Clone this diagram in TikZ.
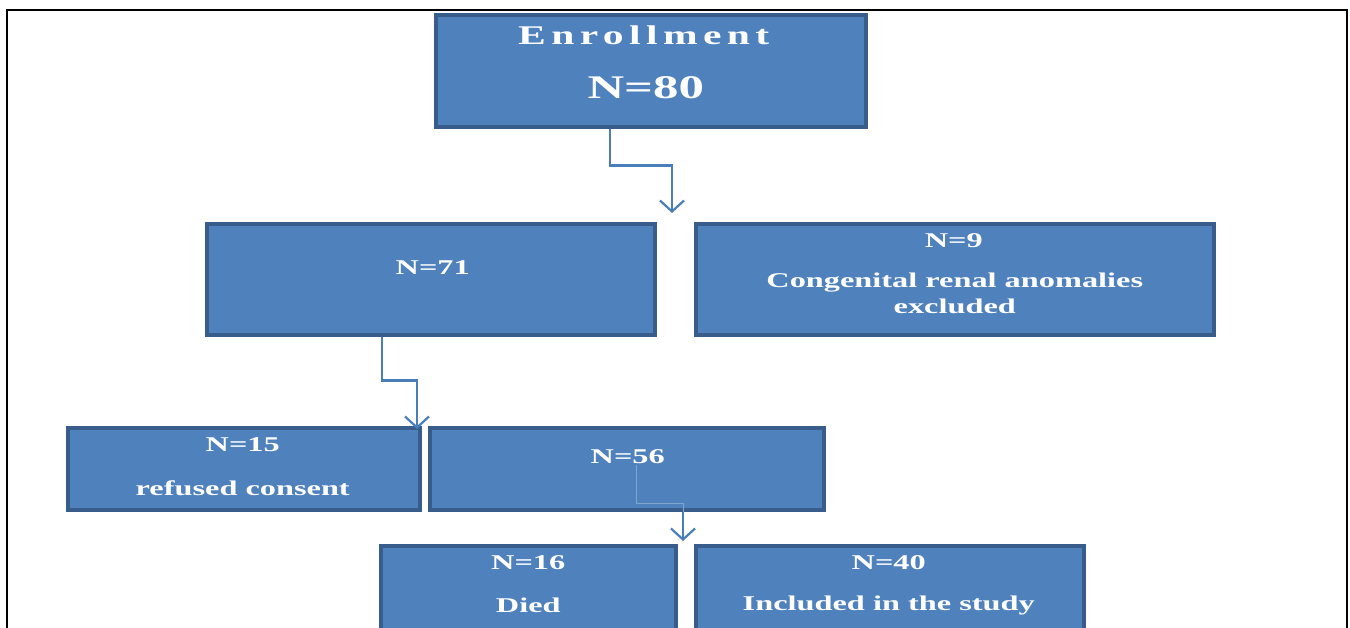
\documentclass[tikz,border=0pt]{standalone}
\usepackage{fontspec}
\setmainfont{Liberation Serif}[FakeStretch=1.54]
\newfontfamily\headfont{Liberation Serif}[FakeStretch=1.54,LetterSpace=20]
\usetikzlibrary{calc,arrows.meta}

\definecolor{boxblue}{HTML}{4F81BD}
\definecolor{boxedge}{HTML}{385D8A}
\definecolor{flowblue}{HTML}{4A7EBB}

\begin{document}
\begin{tikzpicture}[x=1pt, y=-1pt,
  box/.style={draw=boxedge, fill=boxblue, line width=3.5pt, anchor=north west, inner sep=0pt},
  lbl/.style={text=white, inner sep=0pt, font=\fontsize{21}{25}\selectfont\bfseries},
  flow/.style={draw=flowblue, line width=2.2pt, -{Straight Barb[length=11pt,width=24pt]}},
  thinflow/.style={draw=flowblue!70, line width=0.8pt}]

\useasboundingbox (0,0) rectangle (1350,627);
\clip (0,0) rectangle (1350,627);

% frame
\draw[line width=2pt] (7,640) -- (7,10) -- (1347,10) -- (1347,640);

% boxes
\node[box, minimum width=430pt, minimum height=112pt] (enroll) at (434,13) {};
\node[box, minimum width=448pt, minimum height=111pt] (b71) at (205,222) {};
\node[box, minimum width=518pt, minimum height=111pt] (b9) at (694,222) {};
\node[box, minimum width=352pt, minimum height=82pt] (b15) at (66,426) {};
\node[box, minimum width=394pt, minimum height=82pt] (b56) at (428,426) {};
\node[box, minimum width=295pt, minimum height=100pt] (b16) at (379,544) {};
\node[box, minimum width=388pt, minimum height=100pt] (b40) at (694,544) {};

% labels
\node[lbl, font=\fontsize{27}{31}\headfont\bfseries] (tenroll) at ($(enroll.north)+(-7,22)$) {Enrollment};
\node[lbl, font=\fontsize{33}{37}\selectfont\bfseries] (t80) at ($(enroll.north)+(-5,75)$) {N=80};
\node[lbl] (t71) at ($(b71.north)+(2,46)$) {N=71};
\node[lbl] (t9) at ($(b9.north)+(-1,19)$) {N=9};
\node[lbl] (tcong) at ($(b9.north)+(0,61)$) {Congenital renal anomalies};
\node[lbl] (texcl) at ($(b9.north)+(0,84)$) {excluded};
\node[lbl] (t15) at ($(b15.north)+(-1,19)$) {N=15};
\node[lbl] (tref) at ($(b15.north)+(-1,62)$) {refused consent};
\node[lbl] (t56) at ($(b56.north)+(1,31)$) {N=56};
\node[lbl] (t16) at ($(b16.north)+(0,19)$) {N=16};
\node[lbl] (tdied) at ($(b16.north)+(0,61)$) {Died};
\node[lbl] (t40) at ($(b40.north)+(-1,19)$) {N=40};
\node[lbl] (tincl) at ($(b40.north)+(-1,61)$) {Included in the study};

% connectors
\coordinate (split80) at (672,213);
\coordinate (split71) at (417,429);
\coordinate (split56) at (683,541);

\draw[flow] ($(enroll.south)+(-41,0)$) -- ++(0,37) -| (split80);
\draw[flow] ($(b71.south)+(-49,0)$) -- ++(0,44) -| (split71);
\draw[thinflow] ($(b56.north)+(10,39)$) |- ($(b56.south -| split56)+(0,-8)$) -- (b56.south -| split56);
\draw[flow] (b56.south -| split56) -- (split56);

\end{tikzpicture}
\end{document}
